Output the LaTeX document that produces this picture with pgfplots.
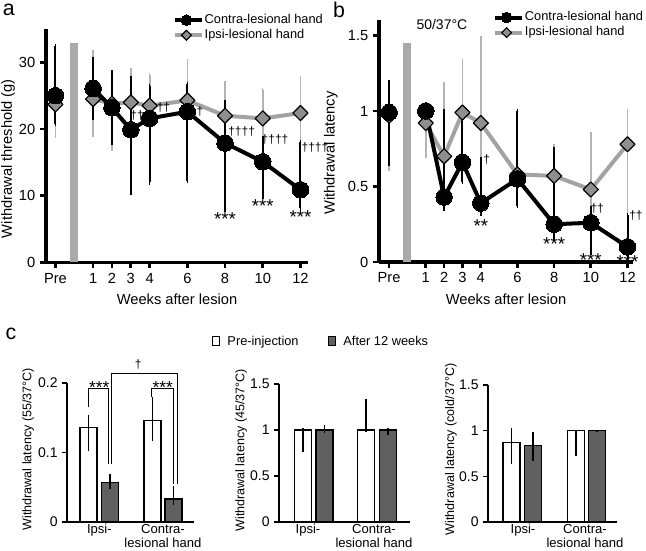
\documentclass[border=0pt]{standalone}
\usepackage{fontspec}
\setmainfont{Liberation Sans}
\usepackage{pgfplots}
\pgfplotsset{compat=1.18}
\definecolor{ipsiline}{HTML}{A3A3A3}
\definecolor{ipsierr}{HTML}{B4B4B4}
\definecolor{diafill}{HTML}{8F8F8F}
\definecolor{afterfill}{HTML}{606060}
\definecolor{sidebar}{HTML}{AAAAAA}
\pgfplotsset{
  timeax/.style={
    scale only axis, clip=false,
    axis x line*=bottom, axis y line*=left,
    axis line style={line width=2.4pt},
    tick style={black, line width=2pt},
    major tick length=4.5pt, tick align=outside,
    xtick={-1,1,2,3,4,6,8,10,12},
    xticklabels={Pre,1,2,3,4,6,8,10,12},
    ticklabel style={font=\fontsize{11}{13}\selectfont},
    /pgf/number format/assume math mode=true,
    label style={font=\fontsize{11}{13}\selectfont},
    xlabel={Weeks after lesion},
    legend cell align=left,
    legend style={draw=none, fill=none, inner sep=0pt, outer sep=0pt, row sep=0pt,
      font=\fontsize{9.6}{11}\selectfont,
      nodes={inner sep=0.75pt, text height=7.3pt, text depth=2.5pt}},
  },
  contra/.style={black, line width=3pt, line join=round, mark=*, mark size=6.2pt,
    mark options={fill=black, draw=black, line width=0pt}, forget plot},
  ipsi/.style={ipsiline, line width=3pt, line join=round, mark=square*, mark size=4pt,
    mark options={rotate=45, fill=diafill, draw=black, line width=0.9pt}, forget plot},
  errblack/.style={draw=none, mark=none, forget plot, error bars/.cd, y dir=both, y explicit,
    error bar style={draw=black, line width=1.5pt},
    error mark options={draw=black, line width=1.2pt, mark size=1.6pt}},
  errgray/.style={draw=none, mark=none, forget plot, error bars/.cd, y dir=both, y explicit,
    error bar style={draw=ipsierr, line width=1.3pt},
    error mark options={draw=ipsierr, line width=1.1pt, mark size=1.6pt}},
  barax/.style={
    scale only axis, clip=false,
    axis x line*=bottom, axis y line*=left,
    axis line style={line width=1pt},
    ytick style={black, line width=0.9pt}, xtick style={draw=none},
    major tick length=3.5pt, tick align=outside,
    ymin=0, xmin=0,
    ticklabel style={font=\fontsize{10.5}{12}\selectfont},
    /pgf/number format/assume math mode=true,
    xticklabel style={align=center, font=\fontsize{9.8}{10.5}\selectfont, inner sep=1pt, yshift=3pt},
    ylabel style={font=\fontsize{9.4}{11}\selectfont},
    xticklabels={Ipsi-,{Contra-\\lesional hand}},
  },
  prebar/.style={ybar, bar shift=0pt, bar width=17, fill=white, draw=black, line width=1.1pt, forget plot,
    error bars/.cd, y dir=both, y explicit, error bar style={black, line width=1pt}, error mark=none},
  afterbar/.style={ybar, bar shift=0pt, bar width=17, fill=afterfill, draw=black, line width=1.1pt, forget plot,
    error bars/.cd, y dir=both, y explicit, error bar style={black, line width=1pt}, error mark=none},
}
\begin{document}
\begin{tikzpicture}
\useasboundingbox (0pt,0pt) rectangle (484.5pt,412.5pt);
% ---------------- panel a
\begin{axis}[timeax, at={(34.5pt,215.625pt)}, anchor=south west,
  width=196.5pt, height=175.125pt,
  xmin=-1.5, xmax=12.4, ymin=0, ymax=35, ytick={0,10,20,30},
  ylabel={Withdrawal threshold (g)},
  ylabel style={at={(axis description cs:-0.145,0.445)}, anchor=center},
  xlabel style={at={(axis description cs:0.5,-0.156)}, anchor=center},
  legend style={at={(0.485,1.070)}, anchor=north west}]
\addplot[ybar, bar shift=0pt, bar width=6pt, fill=sidebar, draw=none, forget plot] coordinates {(0,32.9)};
\addplot[errgray] coordinates {
 (-1,23.7) += (0,6.4) -= (0,4.7)
 (1,24.5) += (0,7.0) -= (0,5.3)
 (2,23.8) += (0,3.5) -= (0,6.7)
 (3,24.0) += (0,4.8) -= (0,4.8)
 (4,23.5) += (0,4.6) -= (0,5.4)
 (6,24.3) += (0,5.9) -= (0,8.9)
 (8,22.0) += (0,4.9) -= (0,5.9)
 (10,21.6) += (0,4.2) -= (0,4.0)
 (12,22.4) += (0,5.2) -= (0,5.0)};
\addplot[errblack] coordinates {
 (-1,25.0) += (0,7.4) -= (0,4.2)
 (1,26.1) += (0,4.4) -= (0,4.4)
 (2,23.2) += (0,5.3) -= (0,5.3)
 (3,19.9) += (0,7.8) -= (0,9.4)
 (4,21.6) += (0,4.9) -= (0,9.6)
 (6,22.6) += (0,4.2) -= (0,10.4)
 (8,17.9) += (0,6.1) -= (0,10.0)
 (10,15.1) += (0,3.6) -= (0,5.2)
 (12,10.9) += (0,7.2) -= (0,2.8)};
\addplot[ipsi] coordinates {(-1,23.7)};
\addplot[ipsi] coordinates {(1,24.5) (2,23.8) (3,24.0) (4,23.5) (6,24.3) (8,22.0) (10,21.6) (12,22.4)};
\addplot[contra] coordinates {(-1,25.0)};
\addplot[contra] coordinates {(1,26.1) (2,23.2) (3,19.9) (4,21.6) (6,22.6) (8,17.9) (10,15.1) (12,10.9)};
\addlegendimage{legend image code/.code={
   \draw[black, line width=3pt] (0pt,0pt) -- (20pt,0pt);
   \draw[black, mark=*, mark size=4pt, mark options={line width=0pt}] plot coordinates {(8.5pt,0pt)};}}
\addlegendentry{Contra-lesional hand}
\addlegendimage{legend image code/.code={
   \draw[ipsiline, line width=3pt] (0pt,0pt) -- (20pt,0pt);
   \draw[mark=square*, mark size=2.6pt, mark options={rotate=45, fill=diafill, draw=black, line width=0.8pt}] plot coordinates {(8.5pt,0pt)};}}
\addlegendentry{Ipsi-lesional hand}
\begin{scope}[font=\fontsize{9}{10}\selectfont]
\node at (axis cs:3.33,22.1) {††};
\node at (axis cs:4.73,23.2) {††};
\node at (axis cs:6.67,22.6) {†};
\node at (axis cs:8.88,19.6) {††††};
\node at (axis cs:10.65,18.4) {††††};
\node at (axis cs:12.77,17.3) {††††};
\end{scope}
\begin{scope}[font=\fontsize{14}{15}\selectfont]
\node at (axis cs:8,6.5) {***};
\node at (axis cs:10,8.5) {***};
\node at (axis cs:12,6.8) {***};
\end{scope}
\end{axis}
% ---------------- panel b
\begin{axis}[timeax, at={(284.25pt,216pt)}, anchor=south west,
  width=190.5pt, height=181.2pt,
  xmin=-1.55, xmax=12.3, ymin=0, ymax=1.6, ytick={0,0.5,1,1.5},
  ylabel={Withdrawal latency},
  ylabel style={at={(axis description cs:-0.19,0.451)}, anchor=center},
  xlabel style={at={(axis description cs:0.5,-0.153)}, anchor=center},
  legend style={at={(0.45,1.043)}, anchor=north west}]
\addplot[ybar, bar shift=0pt, bar width=6pt, fill=sidebar, draw=none, forget plot] coordinates {(0,1.45)};
\addplot[errgray] coordinates {
 (-1,0.97) += (0,0.15) -= (0,0.35)
 (1,0.92) += (0,0.10) -= (0,0.22)
 (2,0.70) += (0,0.48) -= (0,0.30)
 (3,0.99) += (0,0.34) -= (0,0.46)
 (4,0.92) += (0,0.56) -= (0,0.25)
 (6,0.58) += (0,0.20) -= (0,0.20)
 (8,0.57) += (0,0.20) -= (0,0.20)
 (10,0.48) += (0,0.37) -= (0,0.10)
 (12,0.78) += (0,0.22) -= (0,0.45)};
\addplot[errblack] coordinates {
 (-1,0.99) += (0,0.20) -= (0,0.34)
 (1,1.00) += (0,0.03) -= (0,0.03)
 (2,0.43) += (0,0.57) -= (0,0.08)
 (3,0.66) += (0,0.32) -= (0,0.13)
 (4,0.39) += (0,0.29) -= (0,0.07)
 (6,0.55) += (0,0.45) -= (0,0.18)
 (8,0.25) += (0,0.50) -= (0,0.10)
 (10,0.26) += (0,0.10) -= (0,0.20)
 (12,0.10) += (0,0.21) -= (0,0.08)};
\addplot[ipsi] coordinates {(-1,0.97)};
\addplot[ipsi] coordinates {(1,0.92) (2,0.70) (3,0.99) (4,0.92) (6,0.58) (8,0.57) (10,0.48) (12,0.78)};
\addplot[contra] coordinates {(-1,0.99)};
\addplot[contra] coordinates {(1,1.00) (2,0.43) (3,0.66) (4,0.39) (6,0.55) (8,0.25) (10,0.26) (12,0.10)};
\addlegendimage{legend image code/.code={
   \draw[black, line width=3pt] (0pt,0pt) -- (20pt,0pt);
   \draw[black, mark=*, mark size=4pt, mark options={line width=0pt}] plot coordinates {(8.5pt,0pt)};}}
\addlegendentry{Contra-lesional hand}
\addlegendimage{legend image code/.code={
   \draw[ipsiline, line width=3pt] (0pt,0pt) -- (20pt,0pt);
   \draw[mark=square*, mark size=2.6pt, mark options={rotate=45, fill=diafill, draw=black, line width=0.8pt}] plot coordinates {(8.5pt,0pt)};}}
\addlegendentry{Ipsi-lesional hand}
\node[font=\fontsize{10.5}{12}\selectfont] at (axis cs:1.88,1.57) {50/37°C};
\begin{scope}[font=\fontsize{9}{10}\selectfont]
\node at (axis cs:4.32,0.68) {†};
\node at (axis cs:10.35,0.357) {††};
\node at (axis cs:12.46,0.31) {††};
\end{scope}
\begin{scope}[font=\fontsize{14}{15}\selectfont]
\node at (axis cs:4,0.24) {**};
\node at (axis cs:8,0.119) {***};
\node at (axis cs:10,0.013) {***};
\node at (axis cs:12,0.0) {***};
\end{scope}
\end{axis}
% ---------------- panel c1
\begin{axis}[barax, at={(50.25pt,21pt)}, anchor=south west,
  width=95.25pt, height=104.25pt,
  xmax=127, ymax=0.2, ytick={0,0.1,0.2},
  xtick={32.4,96},
  ylabel={Withdrawal latency (55/37°C)},
  ylabel style={at={(axis description cs:-0.307,0.525)}, anchor=center}]
\addplot[prebar] coordinates {(21.7,0.136) += (0,0.018) -= (0,0.034) (85.5,0.146) += (0,0.034) -= (0,0.029)};
\addplot[afterbar] coordinates {(43,0.057) += (0,0.012) -= (0,0.010) (106.5,0.033) += (0,0.019) -= (0,0.009)};
\draw[black, line width=0.8pt] (axis cs:21.3,0.166) |- (axis cs:41.3,0.192) -- (axis cs:41.3,0.083);
\draw[black, line width=0.8pt] (axis cs:84.7,0.180) |- (axis cs:106.3,0.192) -- (axis cs:106.3,0.055);
\draw[black, line width=0.8pt] (axis cs:44.7,0.083) |- (axis cs:110.3,0.214) -- (axis cs:110.3,0.055);
\node[font=\fontsize{13}{14}\selectfont] at (axis cs:32.3,0.194) {***};
\node[font=\fontsize{13}{14}\selectfont] at (axis cs:95.7,0.194) {***};
\node[font=\fontsize{9}{10}\selectfont] at (axis cs:71.3,0.226) {†};
\end{axis}
% ---------------- panel c2
\begin{axis}[barax, at={(209.25pt,21pt)}, anchor=south west,
  width=98.25pt, height=103.5pt,
  xmax=131, ymax=1.5, ytick={0,0.5,1,1.5},
  xtick={29,95},
  ylabel={Withdrawal latency (45/37°C)},
  ylabel style={at={(axis description cs:-0.29,0.52)}, anchor=center},
  legend columns=2,
  legend style={draw=none, fill=none, at={(-0.514,1.360)}, anchor=north west,
    inner sep=0pt, outer sep=0pt, font=\fontsize{9.6}{11}\selectfont,
    /tikz/every even column/.append style={column sep=21pt},
    nodes={inner sep=0.75pt, text height=7.3pt, text depth=2.5pt}}]
\addplot[prebar] coordinates {(24,1.0) += (0,0.02) -= (0,0.235) (87,1.0) += (0,0.34) -= (0,0.02)};
\addplot[afterbar] coordinates {(45.7,1.0) += (0,0.05) -= (0,0.03) (109,1.0) += (0,0.02) -= (0,0.05)};
\addlegendimage{legend image code/.code={
   \path (0pt,0pt) (10.5pt,0pt);
   \draw[black, fill=white, line width=0.8pt] (0pt,-2.5pt) rectangle (5.5pt,4pt);}}
\addlegendentry{Pre-injection}
\addlegendimage{legend image code/.code={
   \path (0pt,0pt) (10.5pt,0pt);
   \draw[black, fill=afterfill, line width=0.8pt] (0pt,-2.5pt) rectangle (5.5pt,4pt);}}
\addlegendentry{After 12 weeks}
\end{axis}
% ---------------- panel c3
\begin{axis}[barax, at={(366pt,21pt)}, anchor=south west,
  width=96.75pt, height=102.75pt,
  xmax=129, ymax=1.5, ytick={0,0.5,1,1.5},
  xtick={35,97},
  ylabel={Withdrawal latency (cold/37°C)},
  ylabel style={at={(axis description cs:-0.287,0.53)}, anchor=center}]
\addplot[prebar] coordinates {(23.7,0.87) += (0,0.155) -= (0,0.23) (88,1.0) += (0,0.01) -= (0,0.28)};
\addplot[afterbar] coordinates {(45,0.84) += (0,0.14) -= (0,0.17) (109,1.0) += (0,0.01) -= (0,0.01)};
\end{axis}
% panel letters
\node[font=\fontsize{16}{18}\selectfont, inner sep=0pt] at (6.6pt,404.8pt) {a};
\node[font=\fontsize{16}{18}\selectfont, inner sep=0pt] at (254.25pt,404.8pt) {b};
\node[font=\fontsize{16}{18}\selectfont, inner sep=0pt] at (8.25pt,162.4pt) {c};
\end{tikzpicture}
\end{document}
